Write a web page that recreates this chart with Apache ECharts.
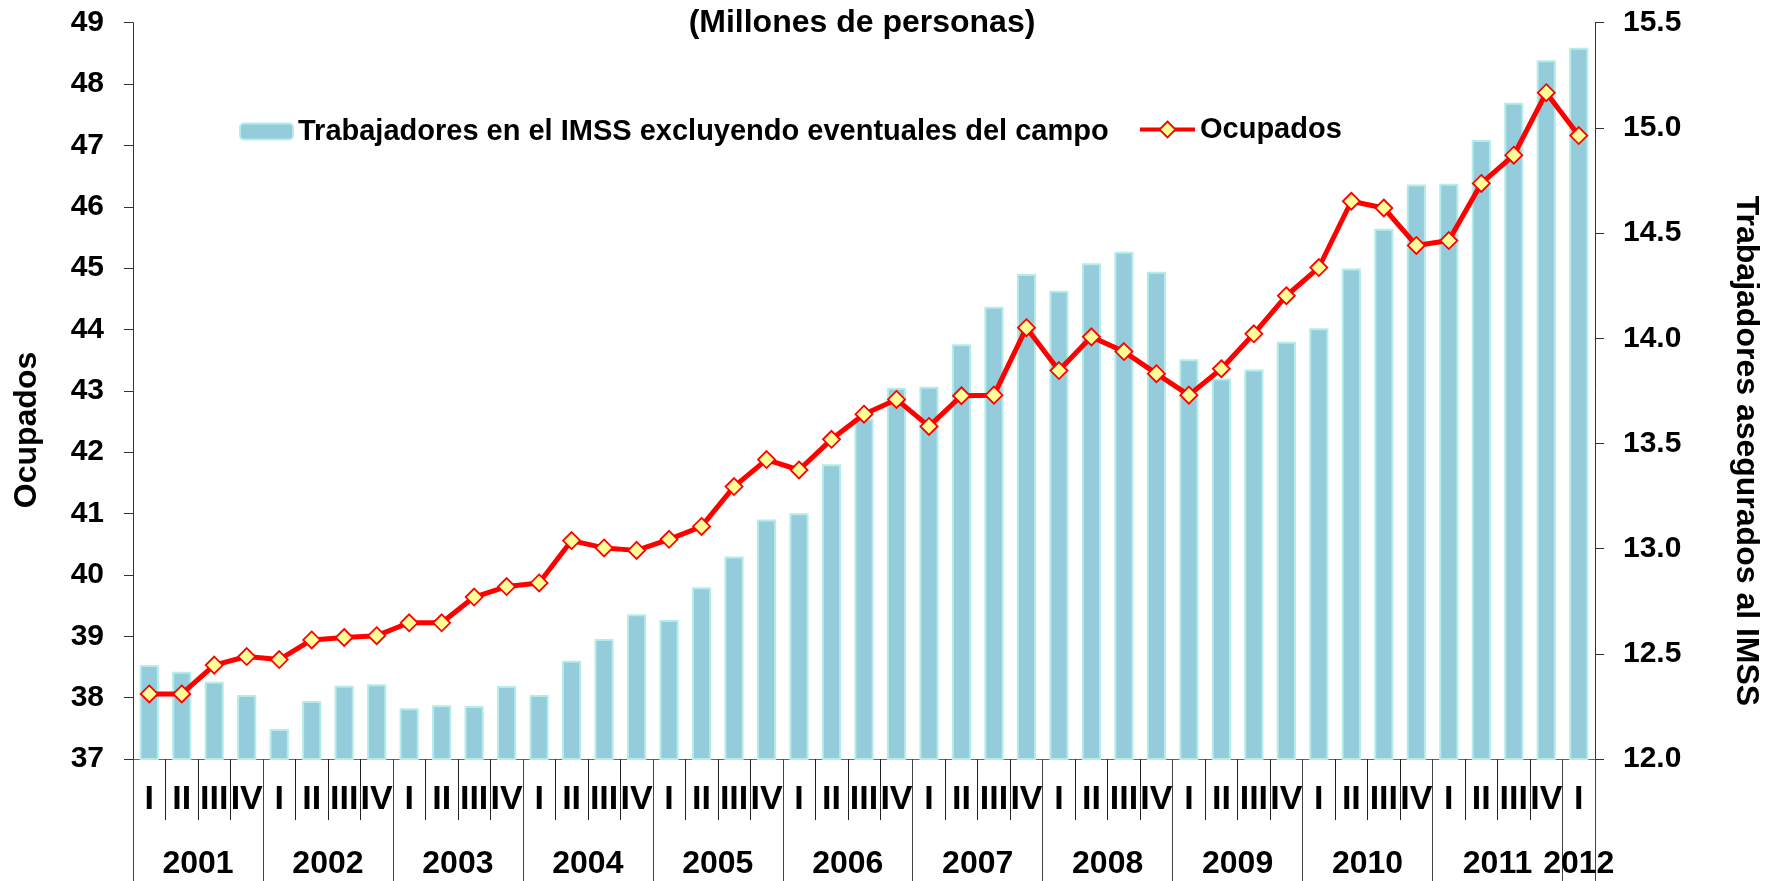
<!DOCTYPE html>
<html>
<head>
<meta charset="utf-8">
<script src="https://cdn.jsdelivr.net/npm/echarts@6/dist/echarts.min.js"></script>
<style>
  html, body { margin: 0; padding: 0; background: #ffffff; }
  #chart { width: 1772px; height: 881px; }
</style>
</head>
<body>
<div id="chart"></div>
<script>
// Quarterly series 2001-I .. 2012-I
const years = ['2001','2002','2003','2004','2005','2006','2007','2008','2009','2010','2011','2012'];
const quartersPerYear = [4,4,4,4,4,4,4,4,4,4,4,1];
const quarterNames = ['I','II','III','IV'];

// Ocupados (millones de personas), left axis
const ocupados = [
  38.06, 38.06, 38.53, 38.67,
  38.62, 38.94, 38.98, 39.01,
  39.22, 39.22, 39.64, 39.81,
  39.87, 40.56, 40.44, 40.40,
  40.58, 40.79, 41.44, 41.88,
  41.71, 42.21, 42.62, 42.86,
  42.42, 42.92, 42.93, 44.03,
  43.33, 43.88, 43.64, 43.28,
  42.93, 43.36, 43.93, 44.55,
  45.01, 46.09, 45.98, 45.37,
  45.45, 46.38, 46.84, 47.86,
  47.16
];

// Trabajadores asegurados al IMSS excluyendo eventuales del campo (millones), right axis
const imss = [
  12.447, 12.415, 12.367, 12.304,
  12.143, 12.276, 12.348, 12.355,
  12.241, 12.255, 12.252, 12.347,
  12.304, 12.467, 12.570, 12.688,
  12.661, 12.816, 12.962, 13.139,
  13.168, 13.401, 13.619, 13.765,
  13.770, 13.971, 14.150, 14.305,
  14.226, 14.356, 14.411, 14.316,
  13.900, 13.809, 13.852, 13.983,
  14.047, 14.332, 14.520, 14.731,
  14.734, 14.942, 15.119, 15.322,
  15.381
];

const barName = 'Trabajadores en el IMSS excluyendo eventuales del campo';
const lineName = 'Ocupados';
const titleText = '(Millones de personas)';
const leftAxisName = 'Ocupados';
const rightAxisName = 'Trabajadores asegurados al IMSS';

// Quarter labels along the category axis
const quarterLabels = [];
quartersPerYear.forEach(n => { for (let q = 0; q < n; q++) quarterLabels.push(quarterNames[q]); });

// Year axis on a half-quarter grid: point 2*q is the boundary before quarter q
const nQ = quarterLabels.length;
const yearAxisData = new Array(2 * nQ + 1).fill('');
const yearBoundaries = new Set();
let start = 0;
quartersPerYear.forEach((n, i) => {
  yearBoundaries.add(2 * start);
  yearAxisData[2 * start + n] = years[i];
  start += n;
});
yearBoundaries.add(2 * nQ);

const FONT = '"Liberation Sans", Arial, Helvetica, sans-serif';
const RED = '#FF0000';
const MARKER_FILL = '#FFFF99';

const chart = echarts.init(document.getElementById('chart'), null, { renderer: 'canvas' });

chart.setOption({
  animation: false,
  backgroundColor: '#ffffff',
  textStyle: { fontFamily: FONT, fontWeight: 'bold', color: '#000' },
  title: {
    text: titleText,
    left: 857,
    top: 2,
    textAlign: 'center',
    textStyle: { fontFamily: FONT, fontSize: 32, fontWeight: 'bold', color: '#000' }
  },
  legend: [
    {
      data: [barName],
      left: 234, top: 112,
      itemWidth: 53, itemHeight: 16,
      textStyle: { fontFamily: FONT, fontSize: 29, fontWeight: 'bold', color: '#000' }
    },
    {
      data: [lineName],
      left: 1133, top: 110,
      itemWidth: 55, itemHeight: 20,
      lineStyle: { color: RED, width: 4 },
      itemStyle: { color: MARKER_FILL, borderColor: RED, borderWidth: 1.8 },
      textStyle: { fontFamily: FONT, fontSize: 29, fontWeight: 'bold', color: '#000' }
    }
  ],
  grid: { left: 133, right: 177, top: 22.7, bottom: 122, containLabel: false },
  xAxis: [
    {
      type: 'category',
      data: quarterLabels,
      boundaryGap: true,
      position: 'bottom',
      axisLine: { show: true, lineStyle: { color: '#666', width: 1 } },
      axisTick: { show: true, interval: 0, length: 61, lineStyle: { color: '#222', width: 1 } },
      axisLabel: { interval: 0, margin: 24, fontSize: 34, fontWeight: 'bold', color: '#000', fontFamily: FONT }
    },
    {
      type: 'category',
      data: yearAxisData,
      boundaryGap: false,
      position: 'bottom',
      axisLine: { show: false },
      axisTick: {
        show: true, length: 122,
        interval: (i) => yearBoundaries.has(i),
        lineStyle: { color: '#444', width: 1 }
      },
      axisLabel: { interval: 0, margin: 89, fontSize: 32, fontWeight: 'bold', color: '#000', fontFamily: FONT }
    }
  ],
  yAxis: [
    {
      type: 'value',
      position: 'left',
      min: 37, max: 49, interval: 1,
      splitLine: { show: false },
      axisLine: { show: true, lineStyle: { color: '#333', width: 1 } },
      axisTick: { show: true, length: 9, lineStyle: { color: '#333', width: 1 } },
      axisLabel: { margin: 29, fontSize: 30, fontWeight: 'bold', color: '#000', fontFamily: FONT }
    },
    {
      type: 'value',
      position: 'right',
      min: 12, max: 15.5, interval: 0.5,
      splitLine: { show: false },
      axisLine: { show: true, lineStyle: { color: '#333', width: 1 } },
      axisTick: { show: true, length: 9, lineStyle: { color: '#333', width: 1 } },
      axisLabel: {
        margin: 28, fontSize: 30, fontWeight: 'bold', color: '#000', fontFamily: FONT,
        formatter: (v) => v.toFixed(1)
      }
    }
  ],
  series: [
    {
      name: barName,
      type: 'bar',
      xAxisIndex: 0,
      yAxisIndex: 1,
      data: imss,
      barWidth: '59%',
      itemStyle: { color: '#95CCDC', borderColor: '#B4EDE7', borderWidth: 2 },
      z: 2
    },
    {
      name: lineName,
      type: 'line',
      xAxisIndex: 0,
      yAxisIndex: 0,
      data: ocupados,
      symbol: 'diamond',
      symbolSize: 17,
      lineStyle: { color: RED, width: 5 },
      itemStyle: { color: MARKER_FILL, borderColor: RED, borderWidth: 1.8 },
      z: 3
    }
  ],
  graphic: [
    {
      type: 'text',
      x: 27, y: 430,
      rotation: Math.PI / 2,
      style: {
        text: leftAxisName,
        font: 'bold 32px ' + FONT,
        fill: '#000',
        align: 'center', verticalAlign: 'middle',
        textAlign: 'center', textVerticalAlign: 'middle'
      }
    },
    {
      type: 'text',
      x: 1746, y: 451,
      rotation: -Math.PI / 2,
      style: {
        text: rightAxisName,
        font: 'bold 32px ' + FONT,
        fill: '#000',
        align: 'center', verticalAlign: 'middle',
        textAlign: 'center', textVerticalAlign: 'middle'
      }
    }
  ]
});
</script>
</body>
</html>
